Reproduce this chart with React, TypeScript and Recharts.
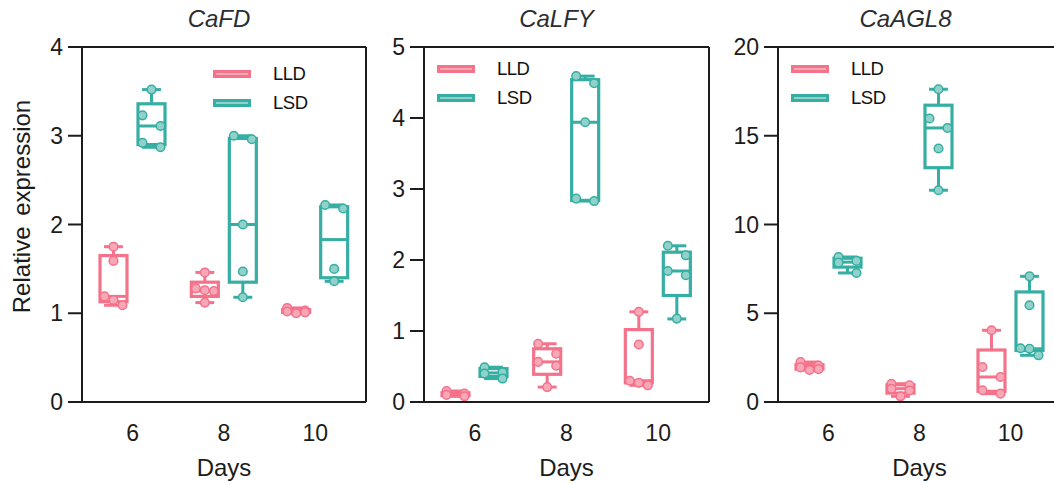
import React from 'react';
import { ComposedChart, Bar, XAxis, YAxis, Legend, ReferenceLine, CartesianGrid } from 'recharts';

// days on the x axis
const days = ['6', '8', '10'];
const groups = ['LLD', 'LSD'];

// box stats per day: [min, q1, median, q3, max]
const fdLldStats = [[1.09, 1.13, 1.19, 1.65, 1.75], [1.12, 1.19, 1.25, 1.35, 1.46], [1.0, 1.01, 1.02, 1.04, 1.06]];
const fdLsdStats = [[2.87, 2.9, 3.11, 3.36, 3.52], [1.18, 1.35, 2.0, 2.97, 3.0], [1.36, 1.4, 1.83, 2.2, 2.22]];
const fdLldPts = [[1.75, 1.59, 1.19, 1.15, 1.09], [1.46, 1.28, 1.26, 1.25, 1.12], [1.06, 1.03, 1.02, 1.01, 1.0]];
const fdLsdPts = [[3.52, 3.23, 3.11, 2.92, 2.87], [3.0, 2.96, 2.0, 1.47, 1.18], [2.22, 2.18, 1.5, 1.36]];

const lfyLldStats = [[0.08, 0.09, 0.11, 0.13, 0.155], [0.21, 0.39, 0.565, 0.75, 0.82], [0.235, 0.27, 0.3, 1.02, 1.27]];
const lfyLsdStats = [[0.33, 0.36, 0.41, 0.47, 0.49], [2.83, 2.84, 3.94, 4.54, 4.59], [1.17, 1.5, 1.845, 2.11, 2.2]];
const lfyLldPts = [[0.155, 0.12, 0.1, 0.08], [0.82, 0.68, 0.565, 0.51, 0.21], [1.27, 0.81, 0.3, 0.27, 0.235]];
const lfyLsdPts = [[0.49, 0.42, 0.4, 0.33], [4.59, 4.49, 3.94, 2.865, 2.83], [2.2, 2.066, 1.845, 1.785, 1.175]];

const aglLldStats = [[1.8, 1.85, 1.97, 2.1, 2.25], [0.32, 0.5, 0.75, 0.97, 1.03], [0.47, 0.6, 1.41, 2.93, 4.04]];
const aglLsdStats = [[7.27, 7.6, 7.88, 8.1, 8.17], [11.93, 13.2, 15.44, 16.72, 17.62], [2.63, 2.9, 3.0, 6.2, 7.08]];
const aglLldPts = [[2.25, 2.05, 1.95, 1.85, 1.8], [1.03, 0.94, 0.75, 0.65, 0.32], [4.04, 1.97, 1.41, 0.66, 0.47]];
const aglLsdPts = [[8.17, 7.95, 7.85, 7.27], [17.62, 15.97, 15.44, 14.28, 11.93], [7.08, 5.45, 3.03, 3.0, 2.63]];

const PINK = '#f4728a';
const PINK_LIGHT = '#f7a7b6';
const TEAL = '#36aea3';
const TEAL_LIGHT = '#90d2ca';
const INK = '#1c1c1c';
const FONT = '"Liberation Sans", Arial, sans-serif';

const buildRows = (lld: number[][], lsd: number[][], lldPts: number[][], lsdPts: number[][]) =>
  days.map((d, i) => ({ day: d, lld: lld[i], lsd: lsd[i], lldPts: lldPts[i], lsdPts: lsdPts[i] }));

// box + whiskers + dots, drawn from the bar's [min, max] pixel span
function boxShape(key: 'lld' | 'lsd', color: string, light: string) {
  return (props: any) => {
    const { x, y, width, height, payload } = props;
    const [mn, q1, md, q3, mx] = payload[key];
    const pts: number[] = payload[key + 'Pts'];
    const top = Math.min(y, y + height);
    const bot = Math.max(y, y + height);
    const py = (v: number) => top + ((mx - v) / (mx - mn)) * (bot - top);
    const cx = x + width / 2;
    const cap = width * 0.35;

    // simple swarm: neighbouring points closer than ~11px get spread sideways
    const sorted = [...pts].sort((a, b) => b - a);
    const clusters: number[][] = [];
    sorted.forEach((v) => {
      const last = clusters[clusters.length - 1];
      if (last && py(v) - py(last[last.length - 1]) < 11.5) last.push(v);
      else clusters.push([v]);
    });
    const dots: { v: number; dx: number }[] = [];
    clusters.forEach((c) => {
      c.forEach((v, j) => {
        let side = 0;
        if (c.length === 3) side = j - 1;
        else if (c.length > 1) side = j === c.length - 1 && c.length % 2 === 1 ? 0 : j % 2 === 0 ? -1 : 1;
        dots.push({ v, dx: side * 9 });
      });
    });

    return (
      <g>
        <line x1={cx} x2={cx} y1={py(mx)} y2={py(q3)} stroke={color} strokeWidth={3} />
        <line x1={cx} x2={cx} y1={py(q1)} y2={py(mn)} stroke={color} strokeWidth={3} />
        <line x1={cx - cap} x2={cx + cap} y1={py(mx)} y2={py(mx)} stroke={color} strokeWidth={3} />
        <line x1={cx - cap} x2={cx + cap} y1={py(mn)} y2={py(mn)} stroke={color} strokeWidth={3} />
        <rect x={x} y={py(q3)} width={width} height={Math.max(py(q1) - py(q3), 0.5)} fill="none" stroke={color} strokeWidth={3.2} />
        <line x1={x} x2={x + width} y1={py(md)} y2={py(md)} stroke={color} strokeWidth={3} />
        {dots.map((d, i) => (
          <circle key={i} cx={cx + d.dx} cy={py(d.v)} r={4.3} fill={light} stroke={color} strokeWidth={1.5} />
        ))}
      </g>
    );
  };
}

const lightOf: Record<string, string> = { LLD: PINK_LIGHT, LSD: TEAL_LIGHT };

const renderLegend = (props: any) => (
  <div style={{ fontFamily: FONT }}>
    {(props.payload || []).map((entry: any) => (
      <div key={entry.value} style={{ display: 'flex', alignItems: 'center', height: 29.5 }}>
        <svg width={38} height={8} style={{ display: 'block' }}>
          <rect x={1.5} y={1.5} width={35} height={5} fill={lightOf[entry.value]} stroke={entry.color} strokeWidth={3} />
        </svg>
        <span style={{ marginLeft: 22, fontSize: 18.5, letterSpacing: -0.5, color: '#111' }}>{entry.value}</span>
      </div>
    ))}
  </div>
);

interface PanelProps {
  title: string;
  rows: any[];
  domain: [number, number];
  ticks: number[];
  left: number;
  width: number;
  yw: number;
  ml: number;
  mr: number;
  legendLeft: number;
  legendTop: number;
  titleDx: number;
  yLabel?: string;
}

function Panel(p: PanelProps) {
  const axisLine = { stroke: INK, strokeWidth: 2 };
  return (
    <div style={{ position: 'absolute', left: p.left, top: 0 }}>
      <ComposedChart
        width={p.width}
        height={484}
        data={p.rows}
        margin={{ top: 47, right: p.mr, bottom: 0, left: p.ml }}
        barSize={27}
        barGap={11}
        style={{ fontFamily: FONT }}
      >
        {/* right edge of the frame */}
        <CartesianGrid
          horizontal={false}
          stroke={INK}
          strokeWidth={2}
          strokeOpacity={1}
          verticalCoordinatesGenerator={({ offset }: any) => [offset.left + offset.width]}
        />
        <XAxis
          dataKey="day"
          height={82}
          tickLine={false}
          tickSize={0}
          tickMargin={23}
          axisLine={axisLine}
          padding={{ left: 5, right: 5 }}
          tick={{ fontSize: 23, fill: INK, fontFamily: FONT }}
          label={{
            content: ({ viewBox }: any) => (
              <text x={viewBox.x + viewBox.width / 2} y={viewBox.y + 74} textAnchor="middle" fontSize={24} fill={INK} fontFamily={FONT}>
                Days
              </text>
            ),
          }}
        />
        <YAxis
          type="number"
          domain={p.domain}
          ticks={p.ticks}
          width={p.yw}
          tickSize={14}
          tickMargin={5}
          tickLine={axisLine}
          axisLine={axisLine}
          tick={{ fontSize: 23, fill: INK, fontFamily: FONT }}
          label={
            p.yLabel
              ? {
                  content: ({ viewBox }: any) => {
                    const lx = viewBox.x + 8;
                    const ly = viewBox.y + viewBox.height / 2 - 18;
                    return (
                      <text x={lx} y={ly} transform={`rotate(-90, ${lx}, ${ly})`} textAnchor="middle" fontSize={24} fill={INK} fontFamily={FONT} wordSpacing={4}>
                        {p.yLabel}
                      </text>
                    );
                  },
                }
              : undefined
          }
        />
        {/* top edge of the frame, carrying the gene title */}
        <ReferenceLine
          y={p.domain[1]}
          stroke={INK}
          strokeWidth={2}
          label={{
            content: ({ viewBox }: any) => (
              <text x={viewBox.x + viewBox.width / 2 + p.titleDx} y={viewBox.y - 20} textAnchor="middle" fontSize={24} fontStyle="italic" fill="#2a2d33" fontFamily={FONT}>
                {p.title}
              </text>
            ),
          }}
        />
        <Legend
          layout="vertical"
          align="center"
          verticalAlign="middle"
          content={renderLegend}
          wrapperStyle={{ left: p.legendLeft, top: p.legendTop, width: 'auto', height: 'auto' }}
        />
        <Bar dataKey={(d: any) => [d.lld[0], d.lld[4]]} name={groups[0]} fill={PINK} shape={boxShape('lld', PINK, PINK_LIGHT)} isAnimationActive={false} />
        <Bar dataKey={(d: any) => [d.lsd[0], d.lsd[4]]} name={groups[1]} fill={TEAL} shape={boxShape('lsd', TEAL, TEAL_LIGHT)} isAnimationActive={false} />
      </ComposedChart>
    </div>
  );
}

export default function App() {
  return (
    <div style={{ position: 'absolute', left: 0, top: 0, width: 1054, height: 484, overflow: 'hidden', background: '#fff' }}>
      <Panel
        title="CaFD"
        rows={buildRows(fdLldStats, fdLsdStats, fdLldPts, fdLsdPts)}
        domain={[0, 4]}
        ticks={[0, 1, 2, 3, 4]}
        left={0}
        width={372}
        yw={60}
        ml={22}
        mr={6}
        legendLeft={213}
        legendTop={59}
        titleDx={-5}
        yLabel="Relative expression"
      />
      <Panel
        title="CaLFY"
        rows={buildRows(lfyLldStats, lfyLsdStats, lfyLldPts, lfyLsdPts)}
        domain={[0, 5]}
        ticks={[0, 1, 2, 3, 4, 5]}
        left={372}
        width={345}
        yw={52}
        ml={0}
        mr={8}
        legendLeft={65}
        legendTop={54}
        titleDx={-10}
      />
      <Panel
        title="CaAGL8"
        rows={buildRows(aglLldStats, aglLsdStats, aglLldPts, aglLsdPts)}
        domain={[0, 20]}
        ticks={[0, 5, 10, 15, 20]}
        left={717}
        width={350}
        yw={56}
        ml={5}
        mr={6}
        legendLeft={74}
        legendTop={54}
        titleDx={-14}
      />
    </div>
  );
}
